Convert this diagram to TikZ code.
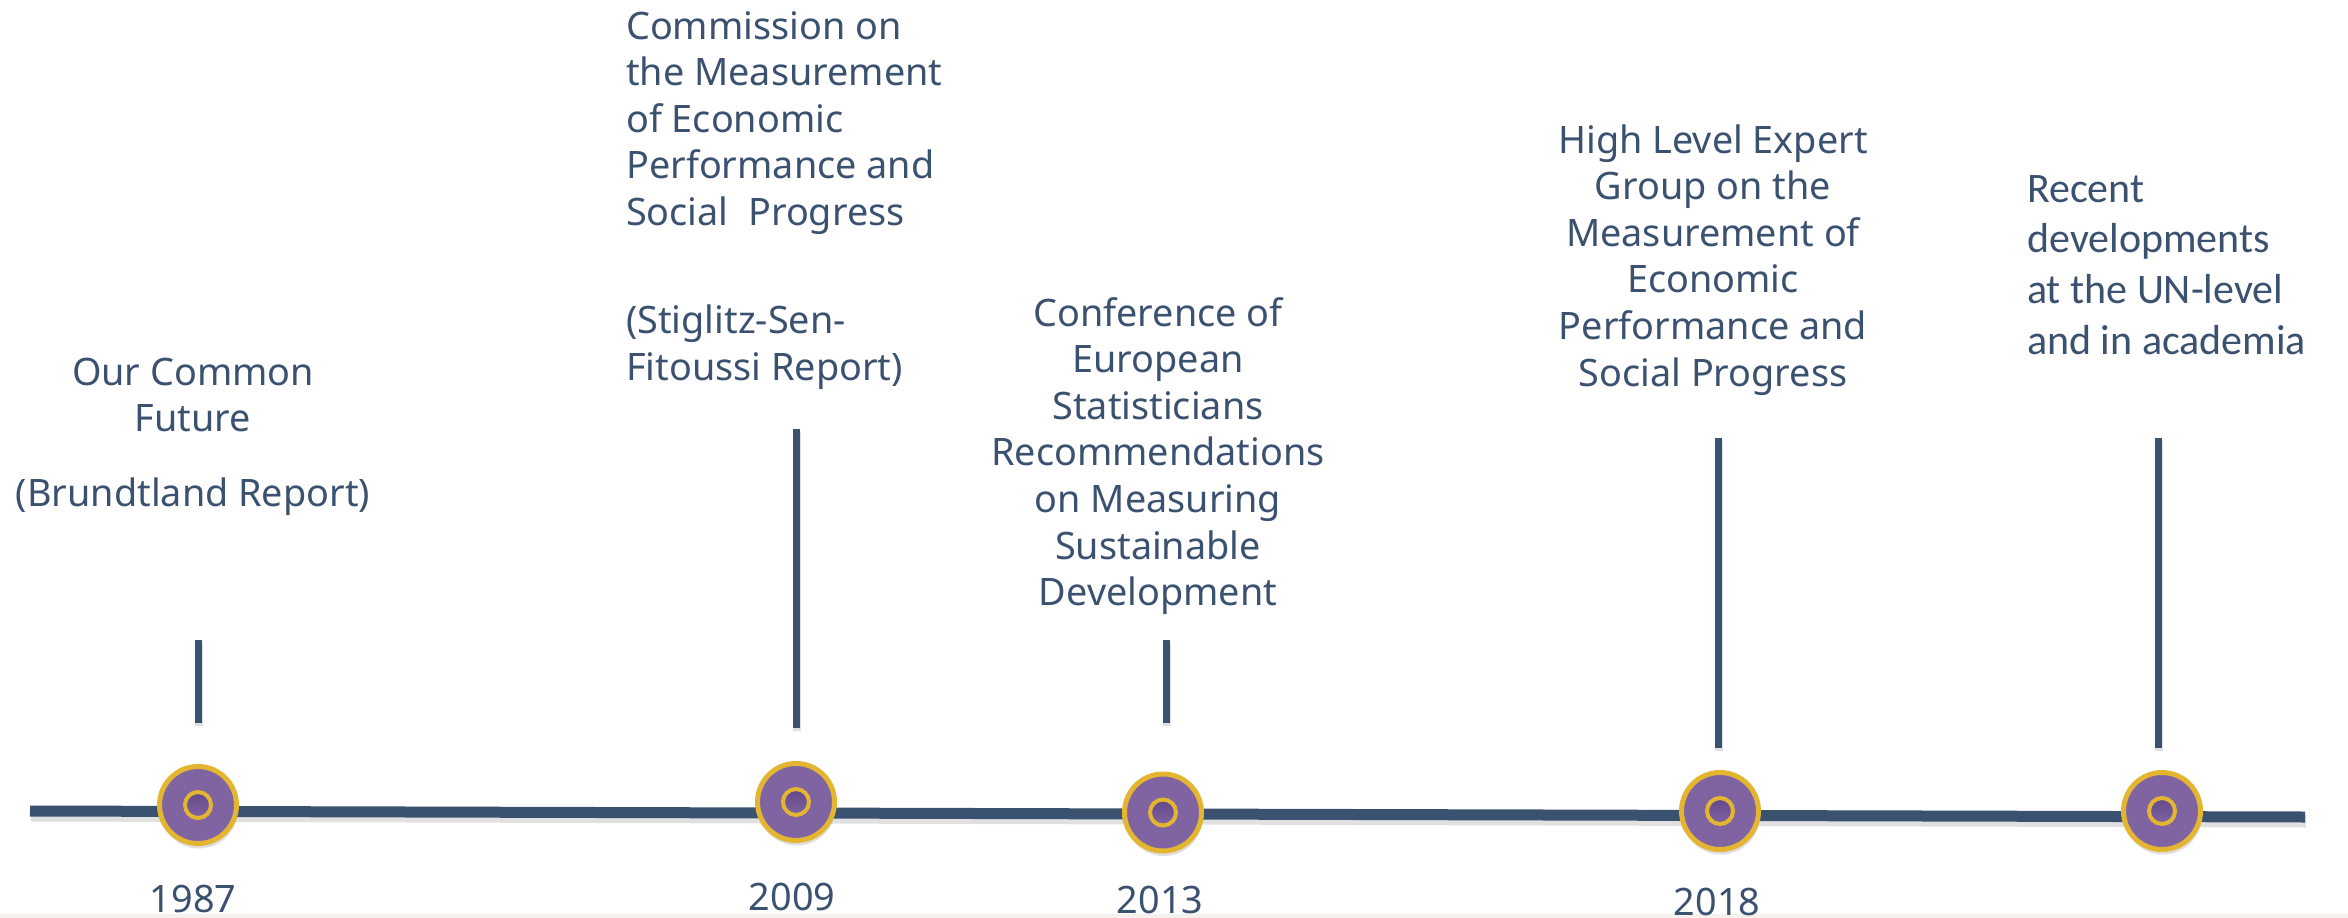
\documentclass[tikz,border=0pt]{standalone}
\usepackage{fontspec}
\setmainfont{Noto Sans}
\newfontfamily\calfont{Carlito}
\usetikzlibrary{shadows}
\definecolor{tlNavy}{HTML}{3B5170}
\definecolor{tlPurple}{HTML}{8064A2}
\definecolor{tlPurpleDeep}{HTML}{62488A}
\definecolor{tlGold}{HTML}{E3B530}
\definecolor{tlStrip}{HTML}{F5F2EE}
\begin{document}
\begin{tikzpicture}[x=1pt,y=-1pt,
  labeltext/.style={text=tlNavy, inner sep=0pt, font=\fontsize{37.8}{46.6}\selectfont},
  recenttext/.style={text=tlNavy, inner sep=0pt, font=\calfont\fontsize{42}{50.8}\selectfont},
  yeartext/.style={text=tlNavy, inner sep=0pt, anchor=base, font=\fontsize{37.8}{46.6}\selectfont},
  mainline/.style={draw=tlNavy, line width=11pt},
  tickline/.style={draw=tlNavy, line width=7pt},
  softshadow/.style={draw=black, opacity=0.12},
  marker/.style={circle, draw=tlGold, fill=tlPurple, line width=5pt, minimum size=77pt, inner sep=0pt,
    drop shadow={shadow xshift=1pt, shadow yshift=-5pt, opacity=0.25}},
  hub/.style={circle, draw=tlGold, line width=4pt, minimum size=26pt, inner sep=0pt,
    top color=tlPurpleDeep, bottom color=tlPurple}
]
\useasboundingbox (0,0) rectangle (2348,918);
\fill[white] (0,0) rectangle (2348,918);
\fill[tlStrip] (0,914) rectangle (2348,918);

% timeline axis
\coordinate (axisL) at (30,811);
\coordinate (axisR) at (2305,817);
\draw[softshadow, line width=13pt] ([xshift=1pt,yshift=-4pt]axisL) -- ([xshift=1pt,yshift=-4pt]axisR);
\draw[mainline] (axisL) -- (axisR);

% tick lines above the markers
\coordinate (k1a) at (198,640);  \coordinate (k1b) at (198,723);
\coordinate (k2a) at (796,429);  \coordinate (k2b) at (796,728);
\coordinate (k3a) at (1166,640); \coordinate (k3b) at (1166,723);
\coordinate (k4a) at (1718,438); \coordinate (k4b) at (1718,748);
\coordinate (k5a) at (2158,438); \coordinate (k5b) at (2158,748);
\foreach \k in {1,...,5}{
  \draw[softshadow, line width=8pt] ([xshift=1pt,yshift=-3pt]k\k a) -- ([xshift=1pt,yshift=-3pt]k\k b);
  \draw[tickline] (k\k a) -- (k\k b);
}

% event markers
\node[marker] (m1) at (198,805) {};
\node[marker] (m2) at (796,802) {};
\node[marker] (m3) at (1163,812.5) {};
\node[marker] (m4) at (1720,811) {};
\node[marker] (m5) at (2162,811) {};
\foreach \m in {1,...,5}{
  \node[hub] (h\m) at (m\m) {};
}

% years
\node[yeartext] (y1) at (193,912) {1987};
\node[yeartext] (y2) at (792,910) {2009};
\node[yeartext] (y3) at (1160,913) {2013};
\node[yeartext] (y4) at (1717,915) {2018};

% event descriptions
\node[labeltext, anchor=base] (d1) at (193,385)
  {\parbox[t]{420pt}{\centering Our Common\\Future\\[28.4pt](Brundtland Report)}};
\node[labeltext, anchor=base west] (d2) at (626,39)
  {\parbox[t]{420pt}{\raggedright Commission on\\the Measurement\\of Economic\\Performance and\\Social~ Progress\\[61.4pt](Stiglitz-Sen-\\Fitoussi Report)}};
\node[labeltext, anchor=base] (d3) at (1158,326)
  {\parbox[t]{420pt}{\centering Conference of\\European\\Statisticians\\Recommendations\\on Measuring\\Sustainable\\Development}};
\node[labeltext, anchor=base] (d4) at (1713,153)
  {\parbox[t]{420pt}{\centering High Level Expert\\Group on the\\Measurement of\\Economic\\Performance and\\Social Progress}};
\node[recenttext, anchor=base west] (d5) at (2027,202)
  {\parbox[t]{320pt}{\raggedright Recent\\developments\\at the UN-level\\and in academia}};
\end{tikzpicture}
\end{document}
